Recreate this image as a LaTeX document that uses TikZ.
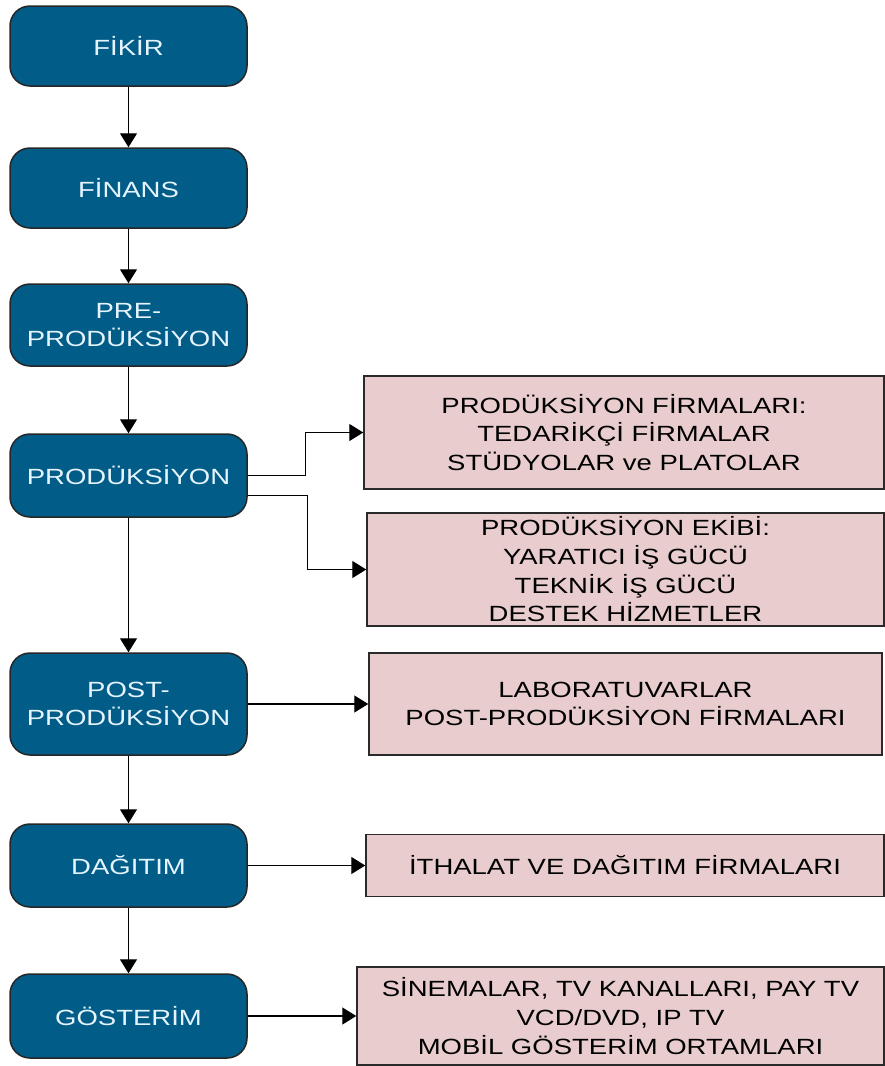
\documentclass[tikz,border=0pt]{standalone}
\usepackage{fontspec}
\setmainfont{Liberation Sans}[FakeStretch=1.25]
\usetikzlibrary{arrows.meta}
\definecolor{stageblue}{HTML}{015D88}
\definecolor{stagetext}{HTML}{E6F4FF}
\definecolor{infopink}{HTML}{E8CCCE}
\definecolor{infoline}{HTML}{2A2A2A}
\tikzset{
  stage/.style={draw=black!85, line width=1.5pt, fill=stageblue, rounded corners=20pt,
    minimum width=237pt, inner sep=0pt, align=center, text=stagetext,
    font=\fontsize{22}{28}\selectfont},
  info/.style={draw=infoline, line width=1.5pt, fill=infopink, inner sep=0pt,
    align=center, text=black, font=\fontsize{22}{28.7}\selectfont},
  flow/.style={line width=1.4pt, -{Triangle[width=17pt,length=14pt]}}
}
\begin{document}
\begin{tikzpicture}[x=1pt,y=-1pt]
\useasboundingbox (0,0) rectangle (885,1066);
\node[stage, minimum height=80pt] (fikir) at (128.5,46) {FİKİR};
\node[stage, minimum height=80pt] (finans) at (128.5,188) {FİNANS};
\node[stage, minimum height=82pt] (pre) at (128.5,325) {PRE-\\PRODÜKSİYON};
\node[stage, minimum height=83pt] (prod) at (128.5,475.5) {PRODÜKSİYON};
\node[stage, minimum height=102pt] (post) at (128.5,704) {POST-\\PRODÜKSİYON};
\node[stage, minimum height=83pt] (dag) at (128.5,865.5) {DAĞITIM};
\node[stage, minimum height=84pt] (gos) at (128.5,1016) {GÖSTERİM};

\node[info, minimum width=520pt, minimum height=113pt] (r1) at (624,432.5)
  {PRODÜKSİYON FİRMALARI:\\TEDARİKÇİ FİRMALAR\\STÜDYOLAR ve PLATOLAR};
\node[info, minimum width=517pt, minimum height=113pt] (r2) at (625.5,569.5)
  {PRODÜKSİYON EKİBİ:\\YARATICI İŞ GÜCÜ\\TEKNİK İŞ GÜCÜ\\DESTEK HİZMETLER};
\node[info, minimum width=513pt, minimum height=102pt] (r3) at (625.5,704)
  {LABORATUVARLAR\\POST-PRODÜKSİYON FİRMALARI};
\node[info, minimum width=518pt, minimum height=62pt] (r4) at (625,865.5)
  {İTHALAT VE DAĞITIM FİRMALARI};
\node[info, minimum width=527pt, minimum height=98pt] (r5) at (620.5,1016)
  {SİNEMALAR, TV KANALLARI, PAY TV\\VCD/DVD, IP TV\\MOBİL GÖSTERİM ORTAMLARI};

\draw[flow] (fikir) -- (finans);
\draw[flow] (finans) -- (pre);
\draw[flow] (pre) -- (prod);
\draw[flow] (prod) -- (post);
\draw[flow] (post) -- (dag);
\draw[flow] (dag) -- (gos);

\draw[flow] (prod.east) -- ++(58,0) |- (r1.west);
\draw[flow] ([yshift=-20pt]prod.east) -- ++(60,0) |- (r2.west);
\draw[flow] (post.east) -- (r3.west);
\draw[flow] (dag.east) -- (r4.west);
\draw[flow] (gos.east) -- (r5.west);
\end{tikzpicture}
\end{document}
